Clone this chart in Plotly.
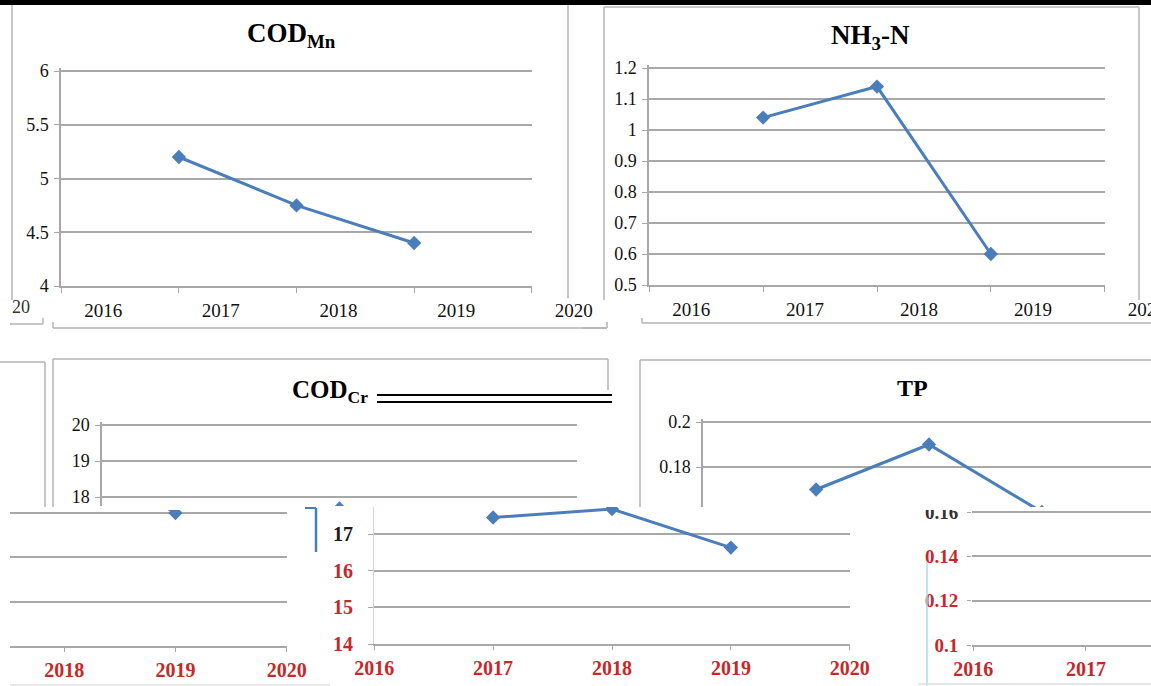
import plotly.graph_objects as go

W, H = 1151, 686

# ---------------- data ----------------
years = [2017, 2018, 2019]
cod_mn = [5.2, 4.75, 4.4]
nh3_n = [1.04, 1.14, 0.60]
cod_cr = [17.45, 17.68, 16.63]
tp = [0.17, 0.19, 0.16]

x_ticks = [2016, 2017, 2018, 2019, 2020]
x_labels = ["2016", "2017", "2018", "2019", "2020"]
cod_mn_ticks = [4, 4.5, 5, 5.5, 6]
cod_mn_labels = ["4", "4.5", "5", "5.5", "6"]
nh3_ticks = [0.5, 0.6, 0.7, 0.8, 0.9, 1.0, 1.1, 1.2]
nh3_labels = ["0.5", "0.6", "0.7", "0.8", "0.9", "1", "1.1", "1.2"]
cod_cr_ticks_upper = [18, 19, 20]
cod_cr_labels_upper = ["18", "19", "20"]
cod_cr_ticks_lower = [14, 15, 16, 17]
cod_cr_labels_lower = ["14", "15", "16", "17"]
tp_ticks_upper = [0.18, 0.2]
tp_labels_upper = ["0.18", "0.2"]
tp_ticks_lower = [0.1, 0.12, 0.14, 0.16]
tp_labels_lower = ["0.1", "0.12", "0.14", "0.16"]

# ---------------- helpers ----------------
def fx(px):
    return px / W

def fy(py):
    return 1 - py / H

def vrange(v0, p0, v1, p1, pa, pb):
    s = (v1 - v0) / (p1 - p0)
    return [v0 + (pa - p0) * s, v0 + (pb - p0) * s]

BLUE = "#4a7ebb"
GRID = "#a8a8a8"
RED = "#c62828"
SERIF = "Liberation Serif"

def red(t):
    return '<span style="color:%s">%s</span>' % (RED, t)

fig = go.Figure()

# panels: (values, x-domain px, x-map, y-domain px, y-map)
panels = [
    dict(vals=cod_mn, xd=(61, 532), xm=(2016, 61, 2020, 532), yd=(68, 286), ym=(6, 71, 4, 286)),
    dict(vals=nh3_n, xd=(649, 1105), xm=(2016, 649, 2020, 1105), yd=(65, 285), ym=(1.2, 68, 0.5, 285)),
    dict(vals=cod_cr, xd=(102, 577), xm=(2016, 102, 2020, 577), yd=(422, 506), ym=(20, 425, 18, 497)),
    dict(vals=tp, xd=(703, 1151), xm=(2016, 703, 2018, 929), yd=(419, 507), ym=(0.2, 422, 0.18, 467)),
    dict(vals=tp, xd=(10, 287), xm=(2018, 64, 2020, 287), yd=(510, 646), ym=(0.16, 513, 0.1, 646)),
    dict(vals=cod_cr, xd=(374, 850), xm=(2016, 374, 2020, 850), yd=(507, 644), ym=(17, 534, 14, 644)),
    dict(vals=tp, xd=(972, 1151), xm=(2016, 973, 2017, 1086), yd=(508, 645), ym=(0.16, 512, 0.1, 645)),
]

layout_axes = {}
for i, p in enumerate(panels, start=1):
    xa = "x" if i == 1 else "x%d" % i
    ya = "y" if i == 1 else "y%d" % i
    fig.add_trace(go.Scatter(
        x=years, y=p["vals"], xaxis=xa, yaxis=ya, mode="lines+markers",
        line=dict(color=BLUE, width=3),
        marker=dict(symbol="diamond", size=11, color=BLUE),
        cliponaxis=True, hoverinfo="skip", showlegend=False,
    ))
    v0, p0, v1, p1 = p["xm"]
    xr = vrange(v0, p0, v1, p1, p["xd"][0], p["xd"][1])
    xr = [xr[0] - 0.002, xr[1] + 0.002]
    v0, p0, v1, p1 = p["ym"]
    yr = vrange(v0, p0, v1, p1, p["yd"][1], p["yd"][0])
    xk = "xaxis" if i == 1 else "xaxis%d" % i
    yk = "yaxis" if i == 1 else "yaxis%d" % i
    layout_axes[xk] = dict(domain=[fx(p["xd"][0]), fx(p["xd"][1])], range=xr,
                           anchor=ya, showgrid=False, zeroline=False, fixedrange=True,
                           automargin=False, ticklabeloverflow="allow")
    layout_axes[yk] = dict(domain=[fy(p["yd"][1]), fy(p["yd"][0])], range=yr,
                           anchor=xa, showgrid=True, gridcolor=GRID, gridwidth=1.5,
                           zeroline=False, fixedrange=True, automargin=False,
                           ticklabeloverflow="allow")

top_x = dict(showline=True, linecolor=GRID, linewidth=1.5, ticks="outside", ticklen=5,
             tickcolor=GRID, tickvals=x_ticks, ticktext=x_labels, ticklabelshift=42,
             ticklabelstandoff=1, tickfont=dict(family=SERIF, size=19, color="#111111"))
top_y = dict(showline=True, linecolor=GRID, linewidth=1.5, ticks="outside", ticklen=5,
             tickcolor=GRID, ticklabelstandoff=2, tickfont=dict(family=SERIF, size=18, color="#111111"))

layout_axes["xaxis"].update(top_x)
layout_axes["xaxis2"].update(top_x)
layout_axes["yaxis"].update(top_y, tickvals=cod_mn_ticks, ticktext=cod_mn_labels)
layout_axes["yaxis2"].update(top_y, tickvals=nh3_ticks, ticktext=nh3_labels)

# upper fragments of bottom row
for k in ("xaxis3", "xaxis4"):
    layout_axes[k].update(showline=False, showticklabels=False, ticks="")
layout_axes["yaxis3"].update(top_y, tickvals=cod_cr_ticks_upper, ticktext=cod_cr_labels_upper)
layout_axes["yaxis4"].update(top_y, tickvals=tp_ticks_upper, ticktext=tp_labels_upper)

# lower fragments
low_x = dict(showline=True, linecolor=GRID, linewidth=1.5, ticks="outside", ticklen=4,
             tickcolor=GRID, tickvals=x_ticks, ticktext=x_labels, ticklabelstandoff=1,
             tickfont=dict(family=SERIF, size=20, color=RED, weight="bold"))
for k in ("xaxis5", "xaxis6", "xaxis7"):
    layout_axes[k].update(low_x)
layout_axes["yaxis5"].update(showticklabels=False, ticks="", showline=False,
                             tickvals=tp_ticks_lower)
layout_axes["yaxis6"].update(
    tickvals=cod_cr_ticks_lower,
    ticktext=[red(t) if t != "17" else t for t in cod_cr_labels_lower],
    ticks="outside", ticklen=5, tickcolor=GRID, ticklabelstandoff=11,
    showline=True, linecolor="#e2d0d0", linewidth=1,
    tickfont=dict(family=SERIF, size=20, color="#1a1a1a", weight="bold"))
layout_axes["yaxis7"].update(
    tickvals=tp_ticks_lower,
    ticktext=[red(t) if t != "0.16" else t for t in tp_labels_lower],
    ticks="outside", ticklen=4, tickcolor=GRID, ticklabelstandoff=5, showline=False,
    tickfont=dict(family=SERIF, size=19, color="#333333", weight="bold"))

# ---------------- decorations ----------------
def hline(y, x0, x1, color="#b5b5b5", width=1.5):
    return dict(type="line", xref="paper", yref="paper", x0=fx(x0), x1=fx(x1),
                y0=fy(y), y1=fy(y), line=dict(color=color, width=width), layer="above")

def vline(x, y0, y1, color="#b5b5b5", width=1.5):
    return dict(type="line", xref="paper", yref="paper", x0=fx(x), x1=fx(x),
                y0=fy(y0), y1=fy(y1), line=dict(color=color, width=width), layer="above")

def cover(x0, x1, y0, y1):
    return dict(type="rect", xref="paper", yref="paper", x0=fx(x0), x1=fx(x1),
                y0=fy(y1), y1=fy(y0), fillcolor="white", line=dict(width=0), layer="above")

shapes = [
    cover(922, 968, 494, 510),
    dict(type="rect", xref="paper", yref="paper", x0=0, x1=1, y0=fy(5), y1=1,
         fillcolor="black", line=dict(width=0), layer="above"),
    # COD_Mn frame
    vline(12, 5, 300), vline(568, 5, 298),
    # NH3-N frame
    hline(7, 604, 1139), vline(604, 7, 300), vline(1139, 7, 300),
    # label strips
    hline(328, 53, 607), vline(53, 322, 328), vline(607, 322, 328),
    hline(324, 10, 43), vline(43, 318, 324),
    hline(323, 642, 1151), vline(642, 318, 323),
    hline(328, 582, 607),
    # bottom-left remnant frame
    hline(362, 0, 45), vline(45, 362, 507),
    # COD_Cr frame
    hline(359, 53, 608), vline(53, 359, 507), vline(608, 359, 390),
    # TP frame
    hline(360, 640, 1151), vline(640, 360, 507),
    # double rule after COD_Cr title
    hline(395, 377, 612, "black", 2), hline(402, 377, 612, "black", 2),
    # artifacts
    vline(316, 508, 552, BLUE, 2.5), hline(508, 305, 316, BLUE, 2),
    vline(927, 562, 686, "#a8dde6", 1.5),
    hline(684, 918, 1151, "#dcdcdc", 1.5), hline(685, 10, 330, "#e2e2e2", 1.5),
]

def ann(text, x, y, size, bold=False, color="black"):
    return dict(text=("<b>%s</b>" % text) if bold else text, x=fx(x), y=fy(y),
                xref="paper", yref="paper", showarrow=False, xanchor="center",
                yanchor="middle", font=dict(family=SERIF, size=size, color=color))

annotations = [
    ann("COD<sub>Mn</sub>", 291, 35, 27, True),
    ann("NH<sub>3</sub>-N", 870, 37, 27, True),
    ann("COD<sub>Cr</sub>", 330, 391, 25, True),
    ann("TP", 912, 388, 24, True),
    ann("20", 21, 307, 18, False, "#333"),
]

fig.update_layout(
    width=W, height=H, autosize=False,
    margin=dict(l=0, r=0, t=0, b=0, pad=0, autoexpand=False),
    paper_bgcolor="white", plot_bgcolor="white",
    showlegend=False, hovermode=False,
    shapes=shapes, annotations=annotations,
    **layout_axes,
)

fig.write_html("out.html", config={"displayModeBar": False},
               post_script="document.body.style.margin='0';")
